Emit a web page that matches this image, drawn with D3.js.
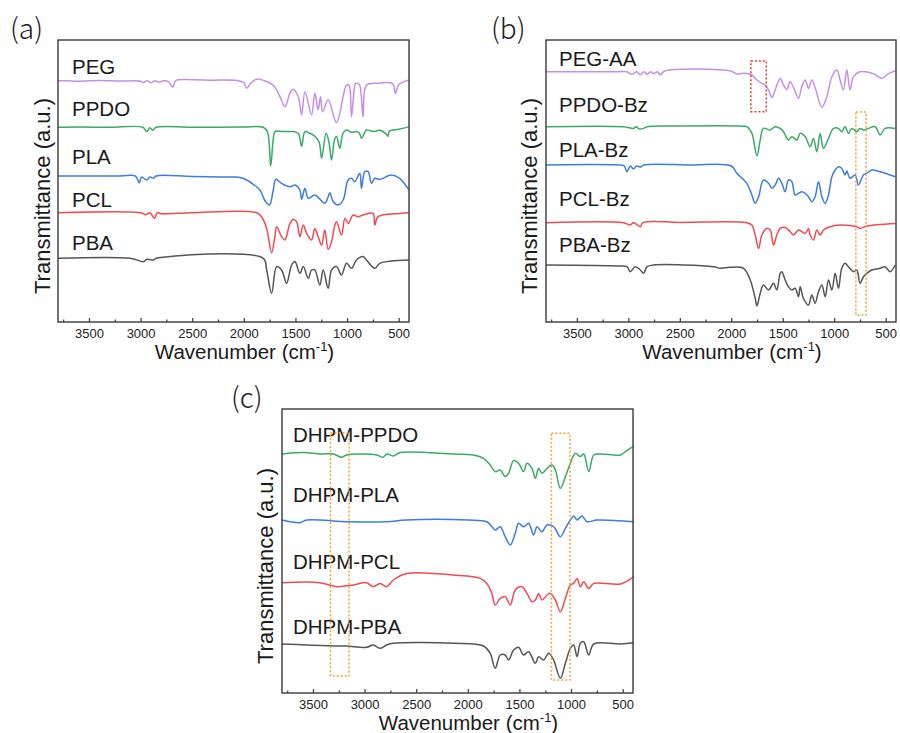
<!DOCTYPE html>
<html><head><meta charset="utf-8">
<script src="https://cdn.jsdelivr.net/npm/d3@7"></script>
<style>body{margin:0;background:#fff}svg{display:block}</style>
</head><body>
<svg id="c" width="900" height="733"></svg>
<script>
// ---------- DATA ----------
const wavenumberDomain = [3800, 400];
const majorTicks = [3500, 3000, 2500, 2000, 1500, 1000, 500];
const minorTicks = [3750, 3250, 2750, 2250, 1750, 1250, 750];
const seriesColors = ["#c48fe6", "#3aa966", "#3c7ddf", "#f04b50", "#555555"];

const panelALabels = ["PEG", "PPDO", "PLA", "PCL", "PBA"];
const panelAOffsets = [241.3, 194.7, 146, 109.3, 63.7];
const panelBLabels = ["PEG-AA", "PPDO-Bz", "PLA-Bz", "PCL-Bz", "PBA-Bz"];
const panelBOffsets = [250.3, 195.3, 157, 99.3, 57];
const panelCLabels = ["DHPM-PPDO", "DHPM-PLA", "DHPM-PCL", "DHPM-PBA"];
const panelCOffsets = [239.7, 173, 110.3, 49];

// [wavenumber, transmittance change (a.u.)]
const PEG = [[3800,0],[3700,0],[3600,-0.5],[3400,0.3],[3200,-0.3],[3000,-0.5],[2972,-2],[2940,0],[2900,-2],[2860,0],[2820,-1.5],[2780,0],[2730,-1],[2688,-6.5],[2660,0],[2500,1],[2300,0.5],[2100,0.5],[2000,-2],[1972,-7.5],[1930,-2],[1876,1.5],[1800,0],[1715,-4.5],[1650,-16],[1602,-26],[1553,-12.5],[1521,-8.5],[1473,-16],[1440,-34],[1408,-11],[1344,-34],[1312,-12.5],[1280,-29],[1257,-16],[1237,-31],[1183,-19],[1102,-42],[1005,-4.5],[980,-5],[957,-36],[920,-3],[908,-2.5],[880,-4],[845,-36],[812,-4.5],[700,-2.5],[560,-3],[531,-12.7],[500,-4],[400,0.7]];
const PPDO = [[3800,0],[3600,0.3],[3300,0],[2980,0],[2939,-4.3],[2910,-0.5],[2880,-3],[2850,0],[2500,0],[2000,0.3],[1812,0],[1770,-5],[1740,-38.7],[1715,-12],[1698,-4.3],[1620,-4.3],[1521,-4.3],[1473,-6],[1440,-19],[1408,-4.3],[1360,-6],[1312,-9],[1270,-15],[1247,-31],[1203,-6],[1175,-15],[1150,-32.7],[1120,-12],[1102,-9.3],[1070,-21],[1040,-6],[1005,-2.7],[957,-5],[908,-4.3],[880,-6],[860,-11],[812,-2.7],[750,-4.3],[680,-3],[620,-7],[605,-9],[590,-4],[500,-2],[400,0.7]];
const PLA = [[3800,0],[3200,0],[3050,0],[3013,-6.7],[2990,-1],[2939,-4],[2910,-1],[2875,-2.3],[2850,0],[2500,-0.5],[2100,-1],[2050,-1.3],[1972,-4],[1900,-9],[1844,-14],[1800,-24],[1779,-27],[1750,-29],[1715,-14],[1689,-3.3],[1634,-7.3],[1553,-10.7],[1505,-9],[1457,-14],[1440,-23.3],[1408,-12.3],[1376,-22.3],[1312,-19],[1215,-27.3],[1183,-20.7],[1167,-16.7],[1134,-25.7],[1086,-29],[1038,-24],[990,-4],[957,-2.3],[925,-5.7],[877,2.7],[860,-12.3],[828,4.3],[796,4.3],[763,-7.3],[731,-2.3],[683,-3.3],[570,1],[490,-2.3],[400,-14]];
const PCL = [[3800,0],[3000,0],[2950,-2],[2910,0],[2865,-5.7],[2840,0],[2800,-1],[2500,0],[1876,0],[1828,-4],[1779,-15.7],[1731,-40],[1699,-24],[1682,-14],[1634,-24],[1602,-27.3],[1553,-10.7],[1521,-6.7],[1489,-9],[1457,-24],[1424,-12.3],[1392,-20.7],[1344,-27.3],[1312,-15.7],[1280,-24],[1247,-32.3],[1215,-17.3],[1183,-36.7],[1150,-29],[1118,-12.3],[1102,-9],[1054,-22.3],[1021,-5.7],[989,-10.7],[941,-2.3],[893,-4],[844,-2.3],[748,-0.7],[731,-12.3],[699,-4],[490,-0.7],[400,0]];
const PBA = [[3800,0],[3100,0],[2972,-3.3],[2940,-1],[2875,-1.7],[2850,0],[1812,0],[1779,-11.7],[1731,-35],[1682,-8.3],[1634,-11.7],[1586,-25],[1537,-6.7],[1505,-3.3],[1457,-15],[1424,-8.3],[1376,-20],[1344,-11.7],[1312,-11.7],[1264,-26.7],[1231,-11.7],[1183,-30],[1150,-11.7],[1102,-8.3],[1054,-16.7],[1005,-5],[957,-10],[909,-1.7],[844,1.7],[812,-1.7],[731,-10],[683,-5],[400,-1.7]];

const PEG_AA = [[3800,0],[3100,0],[3014,0],[2980,-2],[2950,-2],[2920,0],[2884,-3],[2850,0],[2819,-2.5],[2780,0],[2755,-2],[2720,0],[2690,-3],[2650,0.5],[2000,0.5],[1946,-2.3],[1880,-1.5],[1800,-3.3],[1751,-8.3],[1703,-11.7],[1670,-13.3],[1638,-18.3],[1606,-25.7],[1574,-18.3],[1525,-6.7],[1493,-13.3],[1461,-17.7],[1428,-10],[1396,-15.7],[1347,-26.7],[1315,-15],[1282,-8.3],[1250,-16.7],[1218,-8.3],[1186,-15.7],[1120,-35.7],[1072,-25],[1023,-5],[975,1.7],[943,-8.3],[911,-18.3],[878,1.7],[846,-18.3],[813,-5],[749,0],[619,-2],[538,-6.7],[473,-2],[408,1]];
const PPDO_Bz = [[3800,0],[3050,0],[2950,-1.7],[2920,0],[2900,-2],[2852,-1.7],[2820,0],[2500,0.7],[1880,0.5],[1849,0],[1800,-6.7],[1751,-29.3],[1719,-13.3],[1688,-1.7],[1622,-3.3],[1574,0],[1525,-1.7],[1493,-5],[1445,-13.3],[1412,-10],[1363,-13.3],[1331,-6.7],[1282,-10],[1234,-20],[1202,-11.7],[1169,-25],[1137,-6.7],[1104,-21.7],[1056,-11.7],[1007,-1.7],[959,-1.7],[927,-5],[895,0],[862,-6.7],[830,-1.7],[781,-5],[749,-1.7],[716,-3.3],[668,-1.7],[603,0],[554,-8.3],[506,-1.7],[408,-1.7]];
const PLA_Bz = [[3800,0],[3100,0],[3040,-1],[3014,-6.7],[2980,-1],[2950,-4],[2920,-1],[2880,-2],[2850,0],[2400,0],[2000,-1],[1946,-8.3],[1849,-18.3],[1800,-30],[1768,-38.3],[1735,-31.7],[1688,-15],[1638,-18.3],[1606,-23.3],[1574,-20],[1541,-13.3],[1509,-18.3],[1477,-26.7],[1445,-15],[1412,-16.7],[1380,-30],[1347,-28.3],[1315,-26.7],[1282,-28.3],[1250,-31.7],[1218,-36.7],[1186,-31.7],[1153,-16.7],[1120,-31.7],[1088,-38.3],[1056,-30],[1023,-11.7],[991,-5],[959,-1.7],[927,-3.3],[895,-10],[878,-6],[846,-13.3],[797,-10],[765,-20],[716,-10],[684,-8.3],[635,-5],[554,-6.7],[408,-11.7]];
const PCL_Bz = [[3800,0],[3050,0],[2982,-2.3],[2950,0],[2884,-4],[2860,0],[2500,0.3],[1849,0],[1800,-2.3],[1768,-12.3],[1735,-25.7],[1703,-12.3],[1655,-5.7],[1622,-7.3],[1590,-22.3],[1558,-12.3],[1525,-5.7],[1477,-4.7],[1428,-9],[1396,-12.3],[1347,-7.3],[1315,-9],[1282,-10.7],[1250,-5.7],[1234,-12.3],[1202,-17.3],[1169,-7.3],[1137,-12.3],[1104,-7.3],[1040,-4],[943,-2.3],[781,-4],[749,-5.7],[684,-3.3],[408,-0.7]];
const PBA_Bz = [[3800,0],[3100,-1],[3014,-1.7],[2982,-6.7],[2933,-1.7],[2884,-5],[2852,-8.3],[2819,-1.7],[2755,0],[2173,-1.7],[2108,-3.3],[2011,-2.3],[1881,-3.3],[1816,-15],[1768,-33.3],[1751,-41],[1719,-28.3],[1688,-20],[1638,-25],[1590,-18.3],[1558,-25],[1525,-8.3],[1509,-6.7],[1477,-15],[1445,-21.7],[1412,-25],[1380,-23.3],[1347,-31.7],[1331,-21.7],[1299,-33.3],[1250,-40],[1218,-30],[1186,-38.3],[1153,-26.7],[1120,-20],[1088,-31.7],[1056,-15],[1023,-25],[991,-8.3],[959,-23.3],[927,-3.3],[895,1.7],[862,-1.7],[813,-6.7],[781,-5],[749,-18.3],[716,-11.7],[684,-8.3],[635,-5],[554,-3.3],[506,-1.7],[457,-6.7],[408,0]];

const DHPM_PPDO = [[3800,-0.7],[3590,0.7],[3433,-0.7],[3304,-0.7],[3223,-4],[3174,-1.7],[3045,-0.7],[2883,-1.7],[2819,-4],[2786,-0.7],[2722,-2.7],[2657,0.7],[2139,-0.7],[1945,-1.7],[1848,-5],[1783,-11.7],[1735,-18.3],[1686,-16.7],[1638,-23.3],[1605,-20],[1557,-7.3],[1508,-10],[1460,-18.3],[1427,-10],[1379,-15],[1346,-25],[1314,-15],[1282,-20],[1233,-15],[1185,-11.7],[1152,-16.7],[1104,-35],[1055,-23.3],[1007,-10],[958,0],[910,-3.3],[877,-0.7],[829,-18.3],[780,-1.7],[716,-0.7],[522,-1.7],[473,1.7],[392,7.3]];
const DHPM_PLA = [[3800,0],[3627,-2.7],[3560,0],[3158,-1.7],[2786,-1.7],[2600,0],[2000,0],[1816,-1.7],[1767,-6.7],[1735,-10],[1686,-6.7],[1638,-16.7],[1589,-25],[1541,-13.3],[1508,-3.3],[1460,-6.7],[1411,-3.3],[1363,-15],[1330,-6.7],[1282,-11.7],[1233,-5],[1169,-6.7],[1104,-16.7],[1055,-8.3],[1007,0],[975,4],[942,0],[894,4],[845,-1.7],[748,0],[392,-1.7]];
const DHPM_PCL = [[3800,0],[3433,0],[3271,-4],[3110,-2.3],[2980,0],[2916,-4],[2851,-0.7],[2786,-4],[2722,2.7],[2592,9.3],[2139,7.7],[1880,4.3],[1816,-0.7],[1767,-10.7],[1735,-22.3],[1686,-15.7],[1638,-14],[1589,-22.3],[1541,-7.3],[1476,-4],[1427,-10.7],[1379,-19],[1346,-17.3],[1314,-10.7],[1282,-17.3],[1233,-12.3],[1201,-10.7],[1152,-17.3],[1104,-29],[1055,-15.7],[1007,-2.3],[975,-0.7],[942,4.3],[910,-4],[877,1],[829,-5.7],[780,-0.7],[522,-1.3],[392,6]];
const DHPM_PBA = [[3800,0],[3557,-1],[3271,-2],[3174,-2],[2980,-3.3],[2916,-1],[2851,-4.3],[2786,-1],[2722,0.7],[2139,0.7],[1848,-2],[1783,-9.3],[1735,-24.3],[1686,-11],[1638,-11],[1605,-16],[1557,-6],[1508,-3.3],[1460,-11],[1411,-7.7],[1346,-19.3],[1314,-12.7],[1266,-16],[1217,-9.3],[1169,-16],[1104,-34.3],[1055,-19.3],[1007,-4.3],[975,-1],[942,-12.7],[910,0.7],[877,2.3],[829,-11],[780,0],[522,0],[392,1.3]];

// highlight boxes: [w1, w2, yTop(a.u.), yBottom(a.u.), color]
const boxesB = [[1810, 1660, 261, 210.3, "#ee3333"], [790, 690, 210, 7, "#f5a030"]];
const boxesC = [[3330, 3150, 260, 17, "#f5a030"], [1190, 1010, 259.7, 13, "#f5a030"]];

const panels = [
  {tag: "(a)", x0: 58, x1: 409, y0: 40, y1: 322, yMax: 282, names: panelALabels, offsets: panelAOffsets,
   series: [PEG, PPDO, PLA, PCL, PBA], colors: seriesColors, labelBase: [74, 115.5, 163.5, 207, 249.5], labelX: 72,
   tagX: 10, tagY: 39, ylabX: 50, boxes: []},
  {tag: "(b)", x0: 546, x1: 896, y0: 40, y1: 322, yMax: 282, names: panelBLabels, offsets: panelBOffsets,
   series: [PEG_AA, PPDO_Bz, PLA_Bz, PCL_Bz, PBA_Bz], colors: seriesColors, labelBase: [65.5, 112, 156.5, 205.5, 252], labelX: 559,
   tagX: 491, tagY: 39, ylabX: 537, boxes: boxesB},
  {tag: "(c)", x0: 282, x1: 633, y0: 409, y1: 693, yMax: 284, names: panelCLabels, offsets: panelCOffsets,
   series: [DHPM_PPDO, DHPM_PLA, DHPM_PCL, DHPM_PBA], colors: [seriesColors[1], seriesColors[2], seriesColors[3], seriesColors[4]],
   labelBase: [442, 502, 569, 634], labelX: 293, tagX: 231, tagY: 408, ylabX: 273, boxes: boxesC}
];

const FONT = "'Liberation Sans', Arial, Helvetica, sans-serif";
const svg = d3.select("#c");

panels.forEach(p => {
  const x = d3.scaleLinear().domain(wavenumberDomain).range([p.x0, p.x1]);
  const y = d3.scaleLinear().domain([0, p.yMax]).range([p.y1, p.y0]);
  const g = svg.append("g");

  // lines
  const line = d3.line().x(d => x(d[0])).y(d => y(d[1])).curve(d3.curveCatmullRom.alpha(0.5));
  p.series.forEach((s, i) => {
    const off = p.offsets[i];
    g.append("path")
      .datum(s.map(d => [d[0], d[1] + off]))
      .attr("d", line)
      .attr("fill", "none")
      .attr("stroke", p.colors[i])
      .attr("stroke-width", 1.5)
      .attr("stroke-linejoin", "round");
  });

  // series labels
  p.names.forEach((n, i) => {
    g.append("text").attr("x", p.labelX).attr("y", p.labelBase[i])
      .attr("font-family", FONT).attr("font-size", 20.5).attr("fill", "#1a1a1a")
      .text(n);
  });

  // boxes
  p.boxes.forEach(b => {
    g.append("rect")
      .attr("x", x(b[0])).attr("y", y(b[2]))
      .attr("width", x(b[1]) - x(b[0])).attr("height", y(b[3]) - y(b[2]))
      .attr("fill", "none").attr("stroke", b[4]).attr("stroke-width", 1.5)
      .attr("stroke-dasharray", "2,2");
  });

  // frame
  g.append("rect").attr("x", p.x0).attr("y", p.y0)
    .attr("width", p.x1 - p.x0).attr("height", p.y1 - p.y0)
    .attr("fill", "none").attr("stroke", "#3a3a3a").attr("stroke-width", 1.4);

  // bottom axis ticks (inward)
  const ax = d3.axisBottom(x).tickValues(majorTicks).tickSize(-4).tickPadding(7).tickFormat(d3.format("d"));
  const axG = g.append("g").attr("transform", `translate(0,${p.y1})`).call(ax);
  axG.select(".domain").remove();
  axG.selectAll(".tick line").attr("stroke", "#3a3a3a").attr("stroke-width", 1.2);
  axG.selectAll(".tick text").attr("font-family", FONT).attr("font-size", 13).attr("fill", "#222");
  const axm = d3.axisBottom(x).tickValues(minorTicks).tickSize(-2.5).tickFormat("");
  const axmG = g.append("g").attr("transform", `translate(0,${p.y1})`).call(axm);
  axmG.select(".domain").remove();
  axmG.selectAll(".tick line").attr("stroke", "#3a3a3a").attr("stroke-width", 1.2);

  // x label
  const xl = g.append("text").attr("x", (p.x0 + p.x1) / 2 + 11).attr("y", p.y1 + 37)
    .attr("text-anchor", "middle").attr("font-family", FONT).attr("font-size", 20.5).attr("fill", "#1a1a1a");
  xl.append("tspan").text("Wavenumber (cm");
  xl.append("tspan").attr("font-size", 13).attr("dy", -8).text("-1");
  xl.append("tspan").attr("dy", 8).text(")");

  // y label
  g.append("text").attr("transform", `translate(${p.ylabX},${(p.y0 + p.y1) / 2 + 15}) rotate(-90)`)
    .attr("text-anchor", "middle").attr("font-family", FONT).attr("font-size", 22).attr("fill", "#1a1a1a")
    .text("Transmittance (a.u.)");

  // panel tag
  svg.append("text").attr("x", p.tagX).attr("y", p.tagY)
    .attr("font-family", "'Noto Sans CJK SC', 'DejaVu Sans', sans-serif").attr("font-weight", 300)
    .attr("font-size", 28).attr("fill", "#1a1a1a").text(p.tag);
});
</script>
</body></html>
